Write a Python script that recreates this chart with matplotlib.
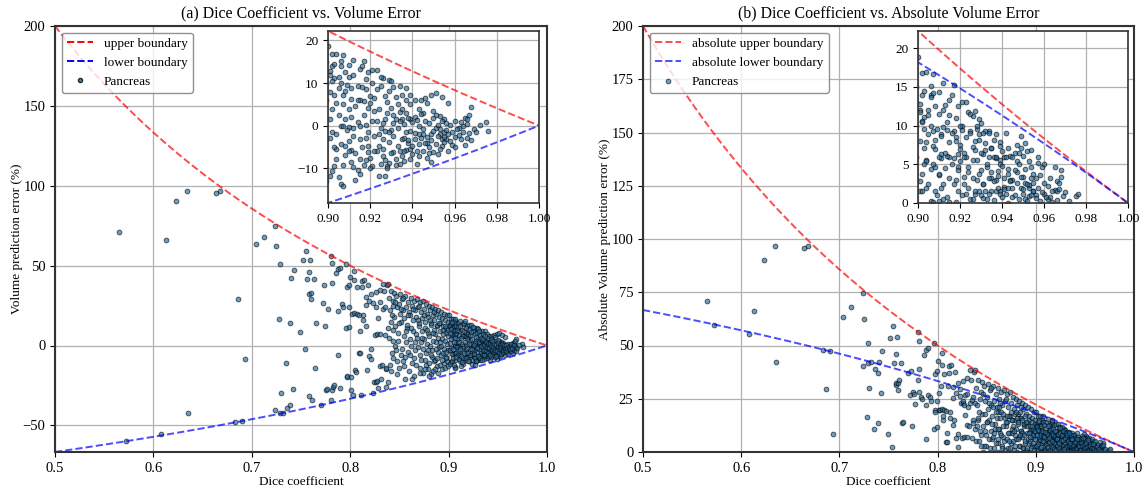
import numpy as np
import matplotlib.pyplot as plt
from matplotlib.lines import Line2D

plt.rcParams['font.family'] = ['Liberation Serif', 'DejaVu Serif']
plt.rcParams['mathtext.fontset'] = 'stix'
plt.rcParams['font.size'] = 9.5

# (dice, volume error %)
sparse_points = [
    (0.565, 70.8), (0.572, -59.7), (0.608, -55.2), (0.613, 66.3), (0.623, 90.2),
    (0.634, 96.5), (0.635, -42.3), (0.664, 95.6), (0.668, 96.9), (0.683, -48.0),
    (0.686, 29.4), (0.690, -47.2), (0.693, -8.5), (0.704, 63.3), (0.712, 67.9),
    (0.724, 74.6), (0.725, 62.5), (0.724, -40.4), (0.728, 16.3), (0.729, 51.0),
    (0.729, -42.0), (0.730, -30.0), (0.732, -42.1), (0.735, -11.0), (0.736, -39.0),
    (0.739, -37.0), (0.739, 13.8), (0.740, 42.3), (0.742, -27.5), (0.743, 47.5),
    (0.749, 8.5), (0.752, 53.5), (0.754, -2.3), (0.755, 59.0), (0.756, 41.7),
    (0.758, 46.0), (0.758, -31.3), (0.758, 32.3), (0.760, 29.0), (0.760, 32.6),
    (0.759, 53.8), (0.761, -34.0), (0.763, 41.9), (0.764, -13.8), (0.765, 14.0),
    (0.770, -37.0), (0.772, 26.7), (0.773, 38.1), (0.774, 12.3), (0.775, -28.0),
    (0.776, -27.0), (0.777, 22.7), (0.780, 56.2), (0.780, -34.0), (0.781, 39.0),
    (0.781, 51.9), (0.781, -28.1), (0.783, -26.0), (0.784, -25.0), (0.786, 45.6),
    (0.788, 47.7), (0.788, 21.9), (0.788, -6.0), (0.790, 48.8), (0.790, -26.9),
    (0.792, 26.0), (0.793, 24.0), (0.796, 51.0), (0.796, 11.0), (0.797, -19.8),
    (0.797, 36.6), (0.797, -19.0), (0.799, 11.7), (0.799, 37.9), (0.799, 24.0),
    (0.800, 42.7), (0.801, -19.8), (0.801, -27.7), (0.802, 19.6), (0.803, -30.8),
    (0.804, 46.5), (0.804, 41.0), (0.804, 20.2), (0.805, -15.2), (0.806, -16.7),
    (0.807, 19.6), (0.807, 36.6), (0.809, 19.1), (0.809, -4.5), (0.810, 8.8),
    (0.810, -4.6), (0.811, -30.8), (0.812, 36.9), (0.812, 40.3), (0.813, 18.8),
    (0.813, 16.0), (0.814, 41.0), (0.816, 30.6), (0.816, 12.5), (0.816, 25.3),
    (0.817, -15.2), (0.818, 37.7), (0.819, 27.9), (0.819, -6.5), (0.821, -8.3),
    (0.821, 32.5), (0.821, -2.5), (0.823, -29.8), (0.823, 26.3), (0.824, -23.0),
    (0.825, 6.7), (0.826, -22.9), (0.826, 23.8), (0.826, 33.5), (0.827, -22.1),
    (0.827, 6.9), (0.828, -26.7), (0.828, 17.3), (0.830, 7.1), (0.830, 34.6),
    (0.830, 27.4), (0.830, -12.8), (0.831, -21.0), (0.832, -12.1), (0.833, 22.9),
    (0.833, 38.7), (0.834, 34.0), (0.835, 24.3), (0.835, 6.8), (0.836, -14.8),
    (0.836, -26.0), (0.836, -13.8), (0.837, 37.7), (0.838, 38.5), (0.838, 10.9),
    (0.838, -23.0),
]

dense_points = [
    (0.839, 30), (0.840, 22), (0.841, 15), (0.839, 5), (0.842, -5), (0.840, -12), (0.843, 25), (0.841, 34),
    (0.844, 28), (0.845, 18), (0.843, 10), (0.846, 0), (0.844, -8), (0.845, 33), (0.841, -15.8),
    (0.847, 31), (0.848, 24), (0.846, 12), (0.849, 3), (0.847, -3), (0.848, -18),
    (0.850, 26), (0.851, 20), (0.849, 8), (0.852, -6), (0.850, -14), (0.851, 32),
    (0.853, 29), (0.854, 22), (0.852, 15), (0.855, 6), (0.853, -2), (0.854, -10), (0.856, -21),
    (0.856, 31), (0.857, 24), (0.855, 17), (0.858, 11), (0.857, 2), (0.856, -7),
    (0.859, 27), (0.860, 21), (0.858, 13), (0.861, 4), (0.859, -4), (0.860, -16),
    (0.862, 30), (0.863, 25), (0.861, 19), (0.864, 9), (0.862, 0), (0.863, -11), (0.865, -19),
    (0.865, 28), (0.866, 22), (0.864, 16), (0.867, 7), (0.866, -3), (0.865, -8),
    (0.868, 29), (0.869, 24), (0.867, 18), (0.870, 12), (0.868, 5), (0.869, -1), (0.871, -14),
    (0.871, 27), (0.872, 21), (0.870, 14), (0.873, 9), (0.872, 2), (0.871, -6), (0.874, -17),
    (0.874, 28), (0.875, 23), (0.873, 17), (0.876, 11), (0.875, 4), (0.874, -2), (0.876, -9), (0.877, -12),
    (0.877, 26), (0.878, 20), (0.876, 15), (0.879, 8), (0.878, 1), (0.877, -5), (0.879, -15),
    (0.880, 25), (0.881, 22), (0.879, 18), (0.882, 13), (0.880, 6), (0.881, 0), (0.883, -7), (0.880, -11), (0.882, -18),
    (0.883, 24), (0.884, 19), (0.882, 14), (0.885, 10), (0.884, 3), (0.883, -3), (0.885, -10), (0.884, -16),
    (0.886, 23), (0.887, 20), (0.885, 16), (0.888, 12), (0.886, 7), (0.887, 2), (0.889, -4), (0.886, -9), (0.888, -13),
    (0.889, 22), (0.890, 18), (0.888, 13), (0.891, 9), (0.889, 5), (0.890, -1), (0.892, -6), (0.891, -12), (0.889, -17),
    (0.892, 21), (0.893, 17), (0.891, 14), (0.894, 10), (0.893, 4), (0.892, 0), (0.894, -5), (0.895, -11), (0.893, -15),
    (0.895, 20), (0.896, 16), (0.894, 12), (0.897, 8), (0.896, 3), (0.895, -2), (0.897, -7), (0.898, -10), (0.896, -14),
    (0.898, 19), (0.899, 15), (0.897, 11), (0.899, 6), (0.898, 1), (0.899, -3), (0.897, -8), (0.899, -13),
    (0.842, 19), (0.844, 3), (0.846, 27), (0.848, -10), (0.850, 14), (0.852, 23), (0.854, 30), (0.855, -13),
    (0.857, 9), (0.859, 19), (0.861, -6), (0.862, 11), (0.864, 23), (0.866, 2), (0.867, -12), (0.869, 16),
    (0.870, 25), (0.872, -9), (0.873, 5), (0.875, 19), (0.876, -15), (0.878, 10), (0.879, -3), (0.881, 16),
    (0.882, -6), (0.884, 8), (0.885, 21), (0.887, -2), (0.888, -8), (0.890, 14), (0.891, 2), (0.893, -9),
    (0.894, 7), (0.896, 12), (0.897, -4), (0.899, 10), (0.886, -15), (0.880, -19), (0.871, -17), (0.863, -21),
]

# dice >= 0.9
tail_points = [
    (0.900, 18.8), (0.901, 12.8), (0.901, 12.0), (0.902, 13.9), (0.902, 16.8), (0.904, 16.9),
    (0.906, 15.1), (0.907, 16.7), (0.903, 11.1), (0.905, 11.4), (0.906, 13.9), (0.910, 14.3),
    (0.912, 15.5), (0.915, 13.3), (0.916, 13.9), (0.917, 15.2), (0.919, 12.5), (0.921, 13.1),
    (0.923, 13.0), (0.926, 11.2), (0.929, 10.8), (0.930, 10.4), (0.934, 9.3), (0.937, 8.9),
    (0.939, 7.3), (0.941, 5.9), (0.944, 6.1), (0.946, 6.5), (0.949, 7.1), (0.951, 7.7),
    (0.954, 6.8), (0.957, 5.2), (0.960, 1.1), (0.962, -0.5), (0.964, -0.1), (0.965, 1.7),
    (0.966, 1.5), (0.968, 4.3), (0.967, -1.8), (0.969, -0.9), (0.975, 0.9), (0.976, -1.2),
    (0.965, -4.6), (0.960, -2.6), (0.956, -3.2), (0.959, -4.6), (0.952, -6.7), (0.949, -8.6),
    (0.947, -7.5), (0.942, -9.0), (0.939, -7.9), (0.935, -7.1), (0.932, -9.3), (0.929, -8.9),
    (0.928, -9.6), (0.926, -7.2), (0.924, -11.8), (0.927, -11.9), (0.921, -9.4), (0.917, -9.3),
    (0.915, -11.4), (0.913, -12.7), (0.912, -9.8), (0.907, -9.3), (0.906, -13.7), (0.907, -14.2),
    (0.902, -10.6), (0.901, -11.8), (0.903, -9.6), (0.904, -5.5), (0.903, -5.1), (0.906, -4.4),
    (0.910, -3.6), (0.911, -5.8), (0.915, -3.2), (0.918, -3.0), (0.919, -6.3), (0.919, -4.7),
    (0.922, -2.4), (0.923, -5.9), (0.924, -4.7), (0.926, -3.2), (0.927, -1.2), (0.929, -3.8),
    (0.931, -2.4), (0.933, -4.7), (0.935, -3.2), (0.937, -1.5), (0.938, -4.1), (0.939, -5.5),
    (0.941, -3.2), (0.943, -2.0), (0.943, -4.4), (0.945, -2.0), (0.947, -4.0), (0.949, -1.9),
    (0.951, -0.5), (0.953, -2.0), (0.954, -3.2), (0.955, -1.5), (0.955, 1.5), (0.953, 2.3),
    (0.951, 2.6), (0.950, 3.4), (0.947, 5.4), (0.945, 3.0), (0.943, 3.8), (0.941, 2.1),
    (0.939, 5.0), (0.937, 3.0), (0.935, 1.5), (0.934, 1.1), (0.932, 1.5), (0.931, 0.7),
    (0.930, 4.2), (0.928, 3.0), (0.927, 1.5), (0.925, -0.5), (0.923, 1.1), (0.922, 3.4),
    (0.920, 5.4), (0.919, 4.2), (0.917, 5.8), (0.915, 6.0), (0.914, 6.1), (0.911, 6.3),
    (0.910, 3.8), (0.908, 1.6), (0.906, -0.2), (0.907, -0.1), (0.910, -0.3), (0.912, -0.5),
    (0.915, -0.1), (0.918, 0.1), (0.904, 5.4), (0.903, 7.1), (0.907, 7.3), (0.908, 8.1),
    (0.905, 8.9), (0.911, 8.9), (0.914, 9.4), (0.918, 8.5), (0.921, 10.0), (0.925, 9.3),
    (0.927, 6.9), (0.929, 8.1), (0.932, 6.8), (0.935, 7.1), (0.939, 1.5), (0.902, 3.8),
    (0.901, 1.5), (0.902, -1.6), (0.901, -2.8), (0.904, -7.9), (0.908, -4.7), (0.910, -5.9),
    (0.911, -8.6), (0.915, -7.9), (0.920, -7.5), (0.931, -6.3), (0.934, -5.9), (0.936, -8.2),
    (0.940, -6.7), (0.943, -7.1), (0.945, -5.9), (0.948, -5.1), (0.950, -6.1), (0.954, -4.7),
    (0.957, -5.9), (0.960, -5.1), (0.963, -3.2), (0.966, -2.8),
    (0.930, -1.0), (0.931, 2.5), (0.933, -0.5), (0.934, 3.2), (0.936, -2.8), (0.936, 0.4),
    (0.937, -5.8), (0.938, 1.9), (0.938, -3.5), (0.939, -1.2), (0.940, 0.8), (0.940, -4.8),
    (0.941, -1.8), (0.942, 1.2), (0.942, -6.0), (0.943, 0.0), (0.944, -3.0), (0.944, 2.8),
    (0.945, -0.8), (0.946, -4.2), (0.946, 1.0), (0.947, -2.6), (0.948, 0.5), (0.948, -6.5),
    (0.949, -3.4), (0.950, -1.2), (0.950, 1.8), (0.951, -4.4), (0.952, 0.2), (0.952, -2.4),
    (0.953, -5.4), (0.953, -0.9), (0.954, 1.0), (0.955, -3.8), (0.955, -2.6), (0.956, -1.0),
    (0.956, 0.6), (0.957, -2.0), (0.958, -3.6), (0.958, 0.2), (0.959, -1.4), (0.961, -0.8),
    (0.962, -2.2), (0.963, 0.8), (0.964, -1.6), (0.966, 0.4), (0.967, 2.6), (0.968, -3.4),
    (0.970, -1.4), (0.972, 0.2),
    (0.901, 8.0), (0.902, 10.5), (0.903, 14.5), (0.904, -2.0), (0.905, 2.5), (0.905, -12.0),
    (0.906, 10.0), (0.907, 5.0), (0.908, 12.5), (0.908, -7.0), (0.909, -1.0), (0.909, 9.5),
    (0.910, 11.5), (0.911, 2.0), (0.912, -2.5), (0.912, 12.0), (0.913, 4.5), (0.913, -6.5),
    (0.914, 0.8), (0.914, -10.5), (0.916, 9.0), (0.916, -5.0), (0.917, 2.5), (0.918, 11.0),
    (0.918, -8.0), (0.919, -1.5), (0.920, 7.0), (0.920, -10.0), (0.921, 1.0), (0.922, 6.5),
    (0.922, -6.0), (0.923, 8.5), (0.924, -2.0), (0.924, 4.0), (0.925, -9.0), (0.925, 11.5),
    (0.926, 0.5), (0.926, -5.5), (0.927, -8.0), (0.928, 5.5), (0.928, -10.0), (0.929, -1.5),
    (0.930, -6.5), (0.931, 9.0), (0.932, -7.8), (0.933, 5.0), (0.934, -9.0), (0.935, 4.0),
    (0.936, -6.0), (0.937, 6.0),
]

pts = np.array(sparse_points + dense_points + tail_points, dtype=float)
dice = pts[:, 0]
vol_err = pts[:, 1]
abs_err = np.abs(vol_err)

# theoretical bounds of volume error for a given dice
d = np.linspace(0.5, 1.0, 400)
upper = 200 * (1 - d) / d
lower = -200 * (1 - d) / (2 - d)

W, H = 1144, 488
fig = plt.figure(figsize=(W / 100, H / 100), dpi=100)

def box(x0, y0, x1, y1):
    return [x0 / W, 1 - y1 / H, (x1 - x0) / W, (y1 - y0) / H]

dot_kw = dict(s=12, c='#24699b', alpha=0.65, edgecolors='black', linewidths=0.6)
grid_kw = dict(color='#b0b0b0', linewidth=0.9)
inset_xt = [0.90, 0.92, 0.94, 0.96, 0.98, 1.00]

def style(ax, lw=1.5, tick=10.5):
    for sp in ax.spines.values():
        sp.set_linewidth(lw)
        sp.set_color('#333333')
    ax.grid(True, **grid_kw)
    ax.set_axisbelow(True)
    ax.tick_params(labelsize=tick)

# ---- (a) signed error
ax1 = fig.add_axes(box(55, 26, 547, 452))
ax1.plot(d, upper, '--', color='red', alpha=0.7, lw=1.4)
ax1.plot(d, lower, '--', color='blue', alpha=0.7, lw=1.4)
ax1.scatter(dice, vol_err, **dot_kw)
ax1.set_xlim(0.5, 1.0)
ax1.set_ylim(lower[0], 200)
ax1.set_yticks([-50, 0, 50, 100, 150, 200])
ax1.set_xlabel('Dice coefficient', labelpad=1)
ax1.set_ylabel('Volume prediction error (%)')
ax1.yaxis.set_label_coords(-0.066, 0.5)
ax1.set_title('(a) Dice Coefficient vs. Volume Error', pad=6)
style(ax1)
handles = [Line2D([], [], ls='--', color='red', lw=1.4),
           Line2D([], [], ls='--', color='blue', lw=1.4),
           Line2D([], [], ls='', marker='o', ms=3, mfc='#24699b', mec='black', alpha=0.8)]
ax1.legend(handles, ['upper boundary', 'lower boundary', 'Pancreas'],
           loc='upper left', framealpha=0.8, edgecolor='#777777')

ins1 = fig.add_axes(box(328, 31, 539, 203))
ins1.plot(d, upper, '--', color='red', alpha=0.7, lw=1.4)
ins1.plot(d, lower, '--', color='blue', alpha=0.7, lw=1.4)
ins1.scatter(dice, vol_err, **dot_kw)
ins1.set_xlim(0.9, 1.0)
ins1.set_ylim(-200 * 0.1 / 1.1, 200 * 0.1 / 0.9)
ins1.set_xticks(inset_xt)
ins1.set_xticklabels(['%.2f' % v for v in inset_xt])
ins1.set_yticks([-10, 0, 10, 20])
style(ins1, lw=1.2, tick=9.5)

# ---- (b) absolute error
ax2 = fig.add_axes(box(643, 26, 1134, 452))
ax2.plot(d, upper, '--', color='red', alpha=0.7, lw=1.4, label='absolute upper boundary')
ax2.plot(d, -lower, '--', color='blue', alpha=0.7, lw=1.4, label='absolute lower boundary')
ax2.scatter(dice, abs_err, label='Pancreas', **dot_kw)
ax2.set_xlim(0.5, 1.0)
ax2.set_ylim(0, 200)
ax2.set_yticks(np.arange(0, 201, 25))
ax2.set_xlabel('Dice coefficient', labelpad=1)
ax2.set_ylabel('Absolute Volume prediction error (%)')
ax2.yaxis.set_label_coords(-0.066, 0.5)
ax2.set_title('(b) Dice Coefficient vs. Absolute Volume Error', pad=6)
style(ax2)
ax2.legend(loc='upper left', framealpha=0.8, edgecolor='#777777')

ins2 = fig.add_axes(box(918, 31, 1128, 203))
ins2.plot(d, upper, '--', color='red', alpha=0.7, lw=1.4)
ins2.plot(d, -lower, '--', color='blue', alpha=0.7, lw=1.4)
ins2.scatter(dice, abs_err, **dot_kw)
ins2.set_xlim(0.9, 1.0)
ins2.set_ylim(0, 200 * 0.1 / 0.9)
ins2.set_xticks(inset_xt)
ins2.set_xticklabels(['%.2f' % v for v in inset_xt])
ins2.set_yticks([0, 5, 10, 15, 20])
style(ins2, lw=1.2, tick=9.5)

fig.savefig('out.png', dpi=100)
